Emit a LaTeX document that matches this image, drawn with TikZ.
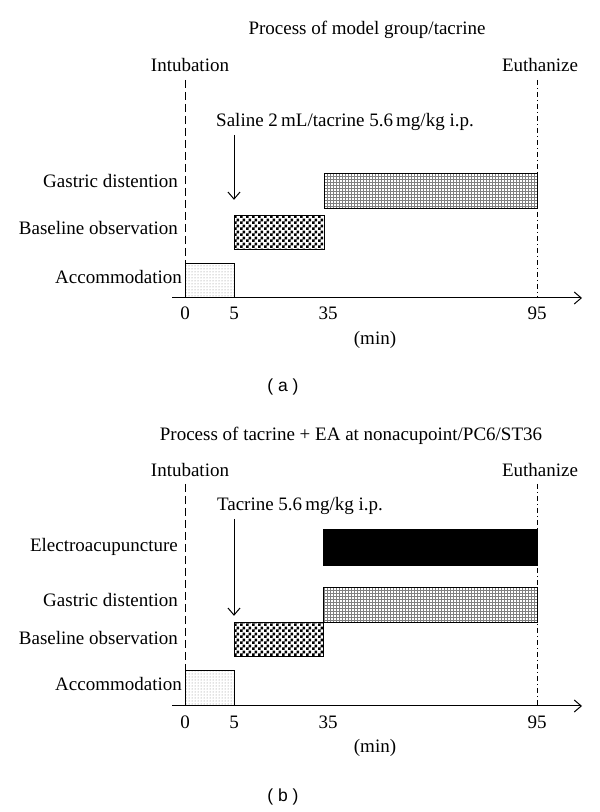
\documentclass[tikz,border=0pt]{standalone}
\usepackage{fontspec}
\setmainfont{Liberation Serif}
\newfontfamily\capfont{Liberation Sans}
\usetikzlibrary{patterns,arrows.meta}

\pgfdeclarepatternformonly{checks}{\pgfpointorigin}{\pgfqpoint{6pt}{6pt}}{\pgfqpoint{6pt}{6pt}}{%
  \pgfpathrectangle{\pgfpointorigin}{\pgfqpoint{3pt}{3pt}}%
  \pgfpathrectangle{\pgfqpoint{3pt}{3pt}}{\pgfqpoint{3pt}{3pt}}%
  \pgfusepath{fill}}

\begin{document}
\begin{tikzpicture}[x=1pt, y=1pt, >={Straight Barb[length=7pt,width=12pt]},
    font=\fontsize{19}{22}\selectfont,
    bar/.style={draw, line width=1.2pt, inner sep=0pt, anchor=south west},
    rowlabel/.style={anchor=east, inner sep=0pt},
    tick/.style={inner sep=0pt},
    startline/.style={line width=1pt, dash pattern=on 8pt off 4pt},
    endline/.style={line width=1pt, dash pattern=on 5pt off 3pt on 1pt off 3pt},
    panel/.style={font=\capfont\fontsize{17.5}{20}\selectfont}]

    \useasboundingbox (0,0) rectangle (600,812);

    % Panel (a): model group/tacrine
    \begin{scope}[yshift=514pt]
        \node (a-title) at (367,268) {Process of model group/tacrine};
        \node (a-intub) at (190,233) {Intubation};
        \node (a-euth) at (540,233) {Euthanize};
        \node (a-dosetxt) at (345,176) {Saline 2\,mL/tacrine 5.6\,mg/kg i.p.};
        \coordinate (a-in0) at (185,218);
        \coordinate (a-eu0) at (537,218);
        \coordinate (a-eu1) at (537,0);
        \coordinate (a-dose) at (234,163);
        \coordinate (a-ax0) at (172,0);
        \coordinate (a-ax1) at (582,0);

        % Time marks
        \draw[startline] (a-in0) -- (185,0);
        \draw[endline] (a-eu0) -- (a-eu1);

        % Bars
        \node[bar, pattern=dots, pattern color=gray, minimum width=49pt, minimum height=34pt] (a-acc) at (185,0) {};
        \node[bar, pattern=checks, minimum width=90pt, minimum height=34pt] (a-base) at (234,48) {};
        \node[bar, pattern=grid, pattern color=gray, minimum width=213pt, minimum height=35pt] (a-gd) at (324,89) {};

        \node[rowlabel] (a-l-acc) at (182,21) {Accommodation};
        \node[rowlabel] (a-l-base) at (178,70) {Baseline observation};
        \node[rowlabel] (a-l-gd) at (178,117) {Gastric distention};

        % Injection and time axis
        \draw[->, line width=1pt] (a-dose) -- ([yshift=15pt]a-base.north west);
        \draw[->, line width=1pt] (a-ax0) -- (a-ax1);
        \foreach \x/\t in {185/0, 234/5, 328/35, 537/95} {
            \node[tick] (a-t\t) at (\x,-15) {\t};
        }
        \node (a-unit) at (375,-42) {(min)};
        \node[panel] (a-cap) at (283,-89) {( a )};
    \end{scope}

    % Panel (b): tacrine + EA
    \begin{scope}[yshift=106pt]
        \node (b-title) at (351,270) {Process of tacrine + EA at nonacupoint/PC6/ST36};
        \node (b-intub) at (190,236) {Intubation};
        \node (b-euth) at (540,236) {Euthanize};
        \node (b-dosetxt) at (300,200) {Tacrine 5.6\,mg/kg i.p.};
        \coordinate (b-in0) at (185,222);
        \coordinate (b-eu0) at (537,222);
        \coordinate (b-eu1) at (537,0);
        \coordinate (b-dose) at (234,187);
        \coordinate (b-ax0) at (172,0);
        \coordinate (b-ax1) at (582,0);

        % Time marks
        \draw[startline] (b-in0) -- (185,0);
        \draw[endline] (b-eu0) -- (b-eu1);

        % Bars
        \node[bar, pattern=dots, pattern color=gray, minimum width=49pt, minimum height=35pt] (b-acc) at (185,0) {};
        \node[bar, pattern=checks, minimum width=89pt, minimum height=34pt] (b-base) at (234,49) {};
        \node[bar, pattern=grid, pattern color=gray, minimum width=214pt, minimum height=35pt] (b-gd) at (323,83) {};
        \node[bar, fill=black, minimum width=214pt, minimum height=36pt] (b-ea) at (323,140) {};

        \node[rowlabel] (b-l-acc) at (182,22) {Accommodation};
        \node[rowlabel] (b-l-base) at (178,68) {Baseline observation};
        \node[rowlabel] (b-l-gd) at (178,106) {Gastric distention};
        \node[rowlabel] (b-l-ea) at (178,159) {Electroacupuncture};

        % Injection and time axis
        \draw[->, line width=1pt] (b-dose) -- ([yshift=6pt]b-base.north west);
        \draw[->, line width=1pt] (b-ax0) -- (b-ax1);
        \foreach \x/\t in {185/0, 234/5, 328/35, 537/95} {
            \node[tick] (b-t\t) at (\x,-16) {\t};
        }
        \node (b-unit) at (375,-42) {(min)};
        \node[panel] (b-cap) at (283,-91) {( b )};
    \end{scope}
\end{tikzpicture}
\end{document}
